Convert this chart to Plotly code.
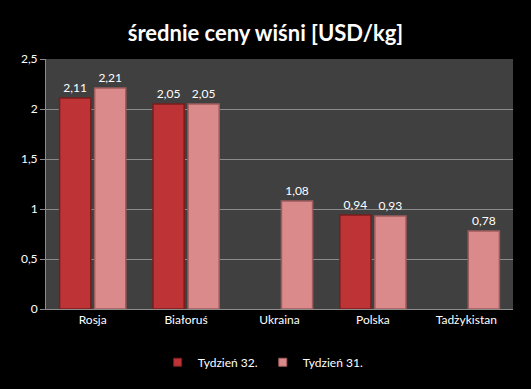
import plotly.graph_objects as go

categories = ["Rosja", "Białoruś", "Ukraina", "Polska", "Tadżykistan"]
week32 = [2.11, 2.05, None, 0.94, None]
week31 = [2.21, 2.05, 1.08, 0.93, 0.78]
week32_labels = ["2,11", "2,05", "", "0,94", ""]
week31_labels = ["2,21", "2,05", "1,08", "0,93", "0,78"]
tick_vals = [0, 0.5, 1, 1.5, 2, 2.5]
tick_text = ["0", "0,5", "1", "1,5", "2", "2,5"]

FONT = "Lato, 'Open Sans', sans-serif"
RED = "#BE3436"
PINK = "#DA8A8A"

fig = go.Figure()
fig.add_trace(go.Bar(
    name="Tydzień 32.", x=categories, y=week32, showlegend=False,
    text=week32_labels, textposition="outside", cliponaxis=False,
    textfont=dict(color="white", size=12, family=FONT),
    marker=dict(color=RED, line=dict(color="#7A1C1C", width=1.5)),
))
fig.add_trace(go.Bar(
    name="Tydzień 31.", x=categories, y=week31, showlegend=False,
    text=week31_labels, textposition="outside", cliponaxis=False,
    textfont=dict(color="white", size=12, family=FONT),
    marker=dict(color=PINK, line=dict(color="#9E5C5C", width=1.5)),
))
# legend entries with small square keys
fig.add_trace(go.Scatter(name="Tydzień 32.", x=[None], y=[None], mode="markers",
                         marker=dict(symbol="square", size=8, color=RED,
                                     line=dict(color="#7A1C1C", width=1))))
fig.add_trace(go.Scatter(name="Tydzień 31.", x=[None], y=[None], mode="markers",
                         marker=dict(symbol="square", size=8, color=PINK,
                                     line=dict(color="#9E5C5C", width=1))))

fig.update_layout(
    width=531, height=389,
    paper_bgcolor="black", plot_bgcolor="#404040",
    margin=dict(l=46, r=18, t=59, b=76),
    barmode="group", bargap=0.25, bargroupgap=0.11,
    title=dict(text="<b>średnie ceny wiśni [USD/kg]</b>", x=0.5, xanchor="center",
               y=0.915, yanchor="middle",
               font=dict(color="white", size=22, family=FONT)),
    font=dict(color="white", family=FONT, size=12),
    legend=dict(orientation="h", x=0.465, xanchor="center", y=-0.155, yanchor="top",
                font=dict(color="white", size=12, family=FONT),
                bgcolor="rgba(0,0,0,0)", itemwidth=30, tracegroupgap=0),
    showlegend=True,
)
fig.update_yaxes(range=[0, 2.5], tickvals=tick_vals, ticktext=tick_text,
                 showgrid=True, gridcolor="#8C8C8C", gridwidth=1,
                 ticks="outside", ticklen=5, tickcolor="#8C8C8C",
                 zeroline=False, showline=True, linecolor="#8C8C8C",
                 tickfont=dict(color="white", size=12, family=FONT))
fig.update_xaxes(showgrid=False, showline=True, linecolor="#8C8C8C",
                 ticks="", tickfont=dict(color="white", size=12, family=FONT))

fig.write_html("out.html", config={"displayModeBar": False},
               post_script="document.body.style.margin='0';document.body.style.background='black';")
